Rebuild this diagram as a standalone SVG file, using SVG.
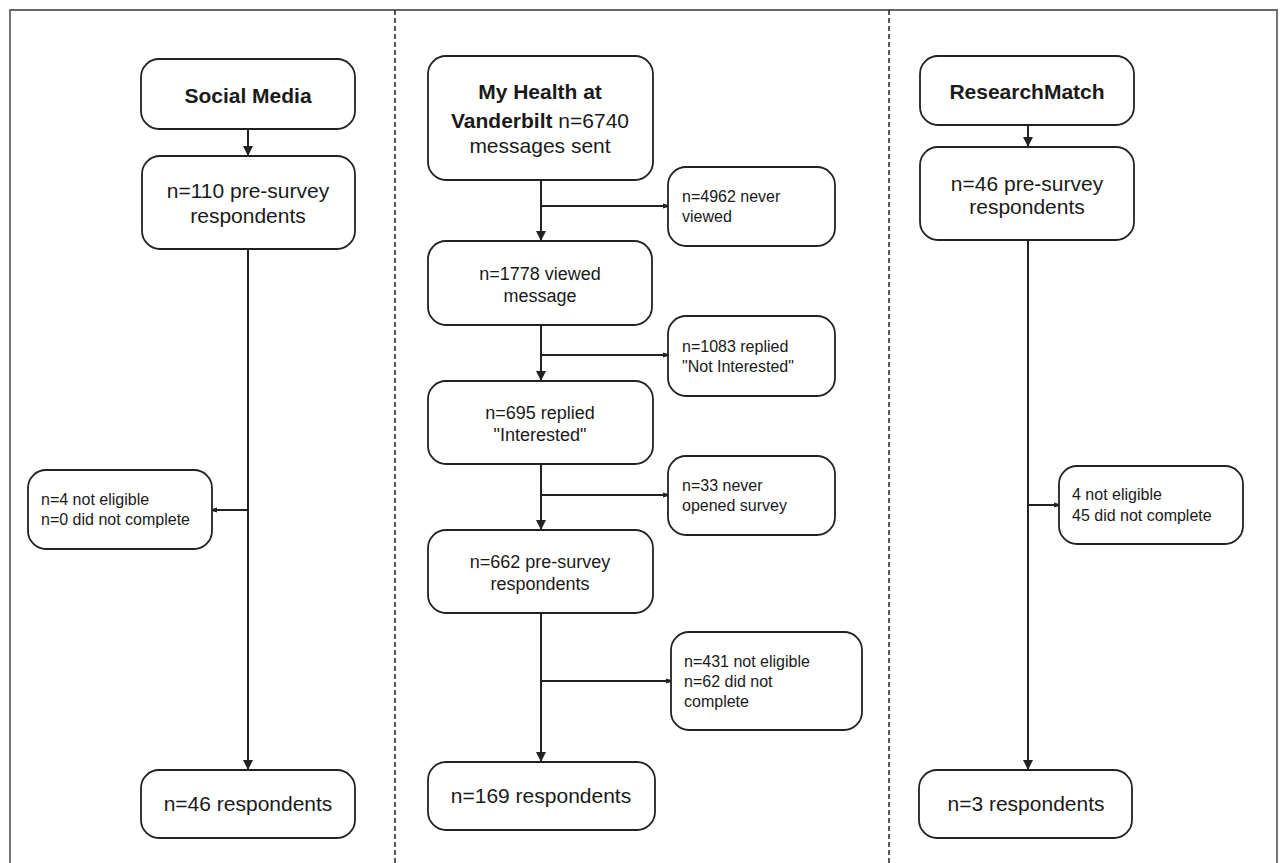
<svg xmlns="http://www.w3.org/2000/svg" width="1280" height="863" viewBox="0 0 1280 863">
<defs>
<style>
.box{fill:#fff;stroke:#222;stroke-width:1.8}
.t{font-family:"Liberation Sans",Arial,sans-serif;fill:#1a1a1a}
.big{font-size:21px}
.mid{font-size:18px}
.sm{font-size:16px}
.b{font-weight:bold}
.ln{fill:none;stroke:#222;stroke-width:2}
.frame{fill:none;stroke:#666;stroke-width:1.8}
.dash{fill:none;stroke:#222;stroke-width:1.5;stroke-dasharray:5,3}
</style>
<marker id="ah" viewBox="0 0 10 10" refX="10" refY="5" markerWidth="10" markerHeight="10" markerUnits="userSpaceOnUse" orient="auto"><path d="M0,0 L10,5 L0,10 z" fill="#222"/></marker>
<marker id="sh" viewBox="0 0 10 10" refX="10" refY="5" markerWidth="5" markerHeight="8" markerUnits="userSpaceOnUse" orient="auto"><path d="M0,0 L10,3 L10,7 L0,10 z" fill="#222"/></marker>
</defs>
<rect width="1280" height="863" fill="#fff"/>
<g id="frame">
<path class="frame" d="M10,863 V10 H1277 V863"/>
<line class="dash" x1="395" y1="10" x2="395" y2="863"/>
<line class="dash" x1="889" y1="10" x2="889" y2="863"/>
</g>
<g id="connectors">
<line class="ln" x1="248" y1="129" x2="248" y2="156" marker-end="url(#ah)"/>
<line class="ln" x1="248" y1="249" x2="248" y2="770" marker-end="url(#ah)"/>
<line class="ln" x1="248" y1="510" x2="212" y2="510" marker-end="url(#sh)"/>
<line class="ln" x1="541" y1="180" x2="541" y2="241" marker-end="url(#ah)"/>
<line class="ln" x1="541" y1="206" x2="668" y2="206" marker-end="url(#sh)"/>
<line class="ln" x1="541" y1="325" x2="541" y2="381" marker-end="url(#ah)"/>
<line class="ln" x1="541" y1="355" x2="668" y2="355" marker-end="url(#sh)"/>
<line class="ln" x1="541" y1="464" x2="541" y2="530" marker-end="url(#ah)"/>
<line class="ln" x1="541" y1="495" x2="668" y2="495" marker-end="url(#sh)"/>
<line class="ln" x1="541" y1="613" x2="541" y2="762" marker-end="url(#ah)"/>
<line class="ln" x1="541" y1="681" x2="671" y2="681" marker-end="url(#sh)"/>
<line class="ln" x1="1028" y1="125" x2="1028" y2="147" marker-end="url(#ah)"/>
<line class="ln" x1="1028" y1="240" x2="1028" y2="770" marker-end="url(#ah)"/>
<line class="ln" x1="1028" y1="505" x2="1059" y2="505" marker-end="url(#sh)"/>
</g>
<g id="sm-source">
<rect class="box" x="141" y="59" width="214" height="70" rx="18"/>
<text class="t big b" x="248" y="103" text-anchor="middle">Social Media</text>
</g>
<g id="sm-pre">
<rect class="box" x="142" y="156" width="213" height="93" rx="18"/>
<text class="t big" x="248" y="198" text-anchor="middle">n=110 pre-survey</text>
<text class="t big" x="248" y="223" text-anchor="middle">respondents</text>
</g>
<g id="sm-excl">
<rect class="box" x="28" y="470" width="184" height="79" rx="18"/>
<text class="t sm" x="41" y="505">n=4 not eligible</text>
<text class="t sm" x="41" y="525">n=0 did not complete</text>
</g>
<g id="sm-final">
<rect class="box" x="141" y="770" width="214" height="68" rx="18"/>
<text class="t big" x="248" y="811" text-anchor="middle">n=46 respondents</text>
</g>
<g id="mh-source">
<rect class="box" x="428" y="56" width="225" height="124" rx="18"/>
<text class="t big b" x="540" y="99" text-anchor="middle">My Health at</text>
<text class="t big" x="540" y="128" text-anchor="middle"><tspan class="b">Vanderbilt</tspan> n=6740</text>
<text class="t big" x="540" y="153" text-anchor="middle">messages sent</text>
</g>
<g id="mh-never-viewed">
<rect class="box" x="668" y="167" width="167" height="79" rx="18"/>
<text class="t sm" x="682" y="202">n=4962 never</text>
<text class="t sm" x="682" y="222">viewed</text>
</g>
<g id="mh-viewed">
<rect class="box" x="428" y="241" width="224" height="84" rx="18"/>
<text class="t mid" x="540" y="280" text-anchor="middle">n=1778 viewed</text>
<text class="t mid" x="540" y="302" text-anchor="middle">message</text>
</g>
<g id="mh-not-interested">
<rect class="box" x="668" y="316" width="167" height="80" rx="18"/>
<text class="t sm" x="682" y="352">n=1083 replied</text>
<text class="t sm" x="682" y="372">"Not Interested"</text>
</g>
<g id="mh-interested">
<rect class="box" x="428" y="381" width="225" height="83" rx="18"/>
<text class="t mid" x="540" y="419" text-anchor="middle">n=695 replied</text>
<text class="t mid" x="540" y="441" text-anchor="middle">"Interested"</text>
</g>
<g id="mh-never-opened">
<rect class="box" x="668" y="456" width="167" height="79" rx="18"/>
<text class="t sm" x="682" y="491">n=33 never</text>
<text class="t sm" x="682" y="511">opened survey</text>
</g>
<g id="mh-pre">
<rect class="box" x="428" y="530" width="225" height="83" rx="18"/>
<text class="t mid" x="540" y="568" text-anchor="middle">n=662 pre-survey</text>
<text class="t mid" x="540" y="590" text-anchor="middle">respondents</text>
</g>
<g id="mh-excl">
<rect class="box" x="671" y="632" width="191" height="98" rx="18"/>
<text class="t sm" x="684" y="667">n=431 not eligible</text>
<text class="t sm" x="684" y="687">n=62 did not</text>
<text class="t sm" x="684" y="707">complete</text>
</g>
<g id="mh-final">
<rect class="box" x="428" y="762" width="227" height="68" rx="18"/>
<text class="t big" x="541" y="803" text-anchor="middle">n=169 respondents</text>
</g>
<g id="rm-source">
<rect class="box" x="920" y="56" width="214" height="69" rx="18"/>
<text class="t big b" x="1027" y="99" text-anchor="middle">ResearchMatch</text>
</g>
<g id="rm-pre">
<rect class="box" x="920" y="147" width="214" height="93" rx="18"/>
<text class="t big" x="1027" y="191" text-anchor="middle">n=46 pre-survey</text>
<text class="t big" x="1027" y="214" text-anchor="middle">respondents</text>
</g>
<g id="rm-excl">
<rect class="box" x="1059" y="466" width="184" height="78" rx="18"/>
<text class="t sm" x="1072" y="500">4 not eligible</text>
<text class="t sm" x="1072" y="521">45 did not complete</text>
</g>
<g id="rm-final">
<rect class="box" x="919" y="770" width="213" height="68" rx="18"/>
<text class="t big" x="1026" y="811" text-anchor="middle">n=3 respondents</text>
</g>
</svg>
